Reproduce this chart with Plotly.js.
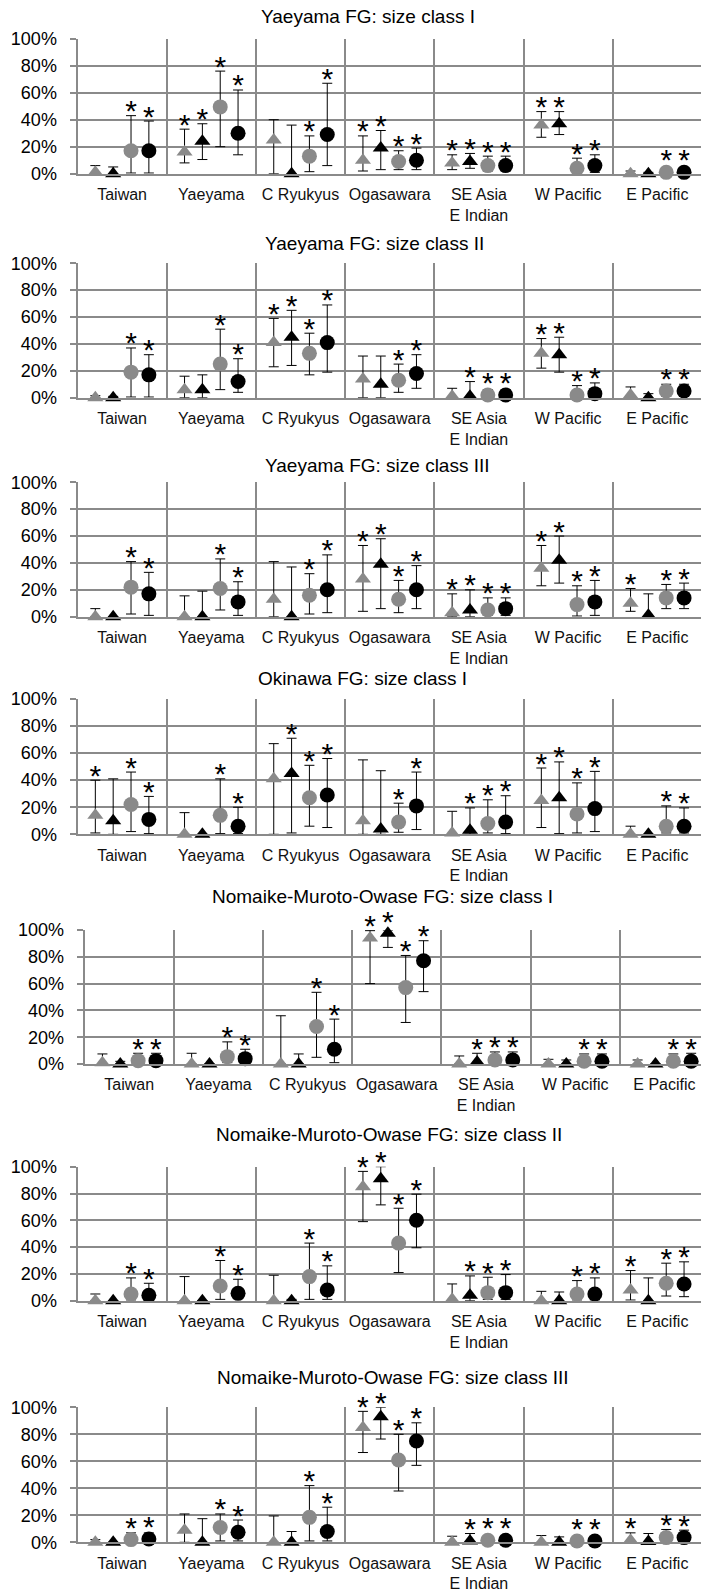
<!DOCTYPE html>
<html>
<head>
<meta charset="utf-8">
<script src="https://cdn.plot.ly/plotly-3.0.1.min.js"></script>
<style>
html,body{margin:0;padding:0;background:#fff;overflow:hidden;width:701px;height:1593px}
#chart{width:712px;height:1593px}
</style>
</head>
<body>
<div id="chart"></div>
<script>
// ---------------- DATA ----------------
const categories = ["Taiwan", "Yaeyama", "C Ryukyus", "Ogasawara", "SE Asia<br>E Indian", "W Pacific", "E Pacific"];
const seriesNames = ["gray triangle", "black triangle", "gray circle", "black circle"];
const panelTitles = [
  "Yaeyama FG: size class I",
  "Yaeyama FG: size class II",
  "Yaeyama FG: size class III",
  "Okinawa FG: size class I",
  "Nomaike-Muroto-Owase FG: size class I",
  "Nomaike-Muroto-Owase FG: size class II",
  "Nomaike-Muroto-Owase FG: size class III"
];
const yTickVals = [0, 20, 40, 60, 80, 100];
const yTickText = ["0%", "20%", "40%", "60%", "80%", "100%"];

// each panel: rows = [gray triangle, black triangle, gray circle, black circle], columns = categories
// Panel 1: Yaeyama FG size class I
const p1Val = [[1, 16, 25, 10, 8, 36, 0], [0, 24, 0, 19, 9, 37, 0], [17, 49.5, 13, 9, 6, 4, 1], [17, 30, 29, 10, 6, 6, 1]];
const p1Lo  = [[0, 8, 0, 2, 3, 27, 0], [0, 10.5, 0, 3, 4, 29, 0], [0.5, 20, 1.5, 3, 2, 1, 0], [0.5, 14, 6, 3, 2, 1, 0]];
const p1Hi  = [[6, 33, 40, 28, 14, 46, 2], [5, 37, 36, 32, 15, 46, 1], [43, 76, 28, 17, 13, 11.5, 3], [39, 62, 67, 19, 13, 14, 3]];
const p1Sig = [[0, 1, 0, 1, 1, 1, 0], [0, 1, 0, 1, 1, 1, 0], [1, 1, 1, 1, 1, 1, 1], [1, 1, 1, 1, 1, 1, 1]];

// Panel 2: Yaeyama FG size class II
const p2Val = [[0, 6, 41, 14, 1, 33, 2], [0, 6, 45, 10, 1, 32, 0], [19, 25, 33, 13, 2, 2, 5], [17, 12, 41, 18, 2, 3, 5]];
const p2Lo  = [[0, 0, 23, 0, 0, 22, 0], [0, 0, 24, 0, 0, 19, 0], [0.5, 6, 17, 4, 0.5, 0.5, 1], [0.5, 4, 19, 7, 0.5, 0.5, 1]];
const p2Hi  = [[1.5, 16, 59, 31, 7, 44, 8], [1, 17, 65, 31, 12, 45, 3], [37, 51, 48, 25, 6, 9, 10], [32, 29, 69, 32, 6, 11, 10]];
const p2Sig = [[0, 0, 1, 0, 0, 1, 0], [0, 0, 1, 0, 1, 1, 0], [1, 1, 1, 1, 1, 1, 1], [1, 1, 1, 1, 1, 1, 1]];

// Panel 3: Yaeyama FG size class III
const p3Val = [[0, 0, 13, 28, 3, 36, 10], [0, 0, 0, 39, 5, 42, 1], [22, 21, 16, 13, 5, 9, 14], [17, 11, 20, 20, 6, 11, 14]];
const p3Lo  = [[0, 0, 0, 4, 0, 23, 4], [0, 0, 0, 6, 0, 25, 0], [2, 5, 2, 3, 1, 0.5, 6], [1, 1, 3, 6, 1, 1, 6]];
const p3Hi  = [[6, 15.5, 41, 53, 17, 53, 21], [0, 19, 37, 58, 20, 60, 17], [41, 43, 32, 27, 14, 23, 24], [33, 26, 46, 38, 14, 27, 25]];
const p3Sig = [[0, 0, 0, 1, 1, 1, 1], [0, 0, 0, 1, 1, 1, 0], [1, 1, 1, 1, 1, 1, 1], [1, 1, 1, 1, 1, 1, 1]];

// Panel 4: Okinawa FG size class I
const p4Val = [[14, 0, 41, 10, 1, 25, 0], [10, 0, 45, 4, 3, 27, 0], [22, 14, 27, 9, 8, 15, 6], [11, 6, 29, 21, 9, 19, 6]];
const p4Lo  = [[1, 0, 0, 0, 0, 5, 0], [0, 0, 1, 0, 0, 0.5, 0], [2, 0.5, 6, 1.5, 1, 1, 1], [0.5, 0.5, 5, 3.5, 0.5, 2, 1]];
const p4Hi  = [[40, 16, 67, 55, 17, 49, 6], [41, 0, 71, 47, 19.5, 53.5, 0], [46, 41, 51, 23, 25.5, 38, 21], [28, 20, 56, 46, 28.5, 46.5, 19.5]];
const p4Sig = [[1, 0, 0, 0, 0, 1, 0], [0, 0, 1, 0, 1, 1, 0], [1, 1, 1, 1, 1, 1, 1], [1, 1, 1, 1, 1, 1, 1]];

// Panel 5: Nomaike-Muroto-Owase FG size class I
const p5Val = [[1, 0, 0, 94, 0, 0, 0], [0, 0, 0, 97.5, 1.5, 0, 0], [2.5, 5.5, 28, 57, 3, 2, 2], [2.5, 4, 11, 77, 3, 2, 2]];
const p5Lo  = [[0, 0, 0, 60, 0, 0, 0], [0, 0, 0, 87, 0, 0, 0], [0.5, 1, 5, 31, 0.5, 0.5, 0.5], [0.5, 0.5, 1, 54, 0.5, 0.5, 0.5]];
const p5Hi  = [[7.5, 8, 36, 99.5, 6, 3.5, 3], [2, 0, 7.5, 100, 8, 3, 0], [8, 16.5, 53.5, 81, 9, 7.5, 7.5], [8, 11, 33.5, 92, 9, 7.5, 8]];
const p5Sig = [[0, 0, 0, 1, 0, 0, 0], [0, 0, 0, 1, 1, 0, 0], [1, 1, 1, 1, 1, 1, 1], [1, 1, 1, 1, 1, 1, 1]];

// Panel 6: Nomaike-Muroto-Owase FG size class II
const p6Val = [[0, 0, 0, 85, 1, 0, 8], [0, 0, 0, 91, 4, 0, 0], [5, 11, 18, 43, 6, 5, 13], [4, 5.5, 8, 60, 6, 5, 12.5]];
const p6Lo  = [[0, 0, 0, 59, 0, 0, 0.5], [0, 0, 0, 71.5, 0, 0, 0], [0.5, 1, 1, 21, 1, 0.5, 3.5], [0.5, 1.5, 1, 39.5, 1, 0.5, 3]];
const p6Hi  = [[5, 18, 19, 96.5, 12.5, 7, 22.5], [0, 0, 1, 100, 18.5, 6.5, 17], [17, 30, 43, 69, 17.5, 15, 28], [13, 16, 26, 79.5, 19.5, 17, 29]];
const p6Sig = [[0, 0, 0, 1, 0, 0, 1], [0, 0, 0, 1, 1, 0, 0], [1, 1, 1, 1, 1, 1, 1], [1, 1, 1, 1, 1, 1, 1]];

// Panel 7: Nomaike-Muroto-Owase FG size class III
const p7Val = [[0, 9, 0, 85, 0, 0, 1.5], [0, 0, 0, 93, 1, 0, 0.5], [2, 11, 18.5, 61, 1.5, 1, 3.5], [2.5, 7.5, 8, 75, 1.5, 1, 3.5]];
const p7Lo  = [[0, 0, 0, 66.5, 0, 0, 0], [0, 0, 0, 76.5, 0, 0, 0], [0.5, 1, 1, 38, 0.5, 0.5, 0.5], [0.5, 1, 1, 57, 0.5, 0.5, 0.5]];
const p7Hi  = [[2, 21, 19.5, 97, 4.5, 5, 7], [0, 17.5, 8, 100, 6.5, 4, 6.5], [7, 21, 42, 80, 4, 3, 9.5], [7, 16.5, 26, 88.5, 4, 3, 9]];
const p7Sig = [[0, 0, 0, 1, 0, 0, 1], [0, 0, 0, 1, 1, 0, 0], [1, 1, 1, 1, 1, 1, 1], [1, 1, 1, 1, 1, 1, 1]];

// ---------------- LAYOUT / STYLE ----------------
const panels = [
  {val: p1Val, lo: p1Lo, hi: p1Hi, sig: p1Sig},
  {val: p2Val, lo: p2Lo, hi: p2Hi, sig: p2Sig},
  {val: p3Val, lo: p3Lo, hi: p3Hi, sig: p3Sig},
  {val: p4Val, lo: p4Lo, hi: p4Hi, sig: p4Sig},
  {val: p5Val, lo: p5Lo, hi: p5Hi, sig: p5Sig},
  {val: p6Val, lo: p6Lo, hi: p6Hi, sig: p6Sig},
  {val: p7Val, lo: p7Lo, hi: p7Hi, sig: p7Sig}
];

const W = 712, H = 1593;
const FONT = "Liberation Sans, Arial, Helvetica, sans-serif";
const GRID = "#8a8a8a";
const GRAY = "#8a8a8a";
const catW = 89.2;
const STAR = 30;
// pixel frame of each plot area: [left, top, bottom]
const frames = [
  [77.5, 38.7, 173.7],
  [77.5, 263.3, 397.7],
  [77.5, 482.3, 616.7],
  [77.5, 699.0, 834.3],
  [84.6, 930.0, 1064.0],
  [77.5, 1166.7, 1300.7],
  [77.5, 1407.3, 1542.3]
];
const titlePos = [[368, 16.7], [374.6, 243.3], [377.7, 465], [362, 678.3], [382, 896.5], [389, 1134], [392.6, 1377]];

const styles = [
  {symbol: "triangle-up", color: GRAY, size: 14, off: -0.3, half: 7},
  {symbol: "triangle-up", color: "#000", size: 14, off: -0.1, half: 7},
  {symbol: "circle", color: GRAY, size: 15, off: 0.1, half: 7.5},
  {symbol: "circle", color: "#000", size: 15, off: 0.3, half: 7.5}
];

const traces = [];
const textTraces = [];
const layout = {
  width: W, height: H,
  margin: {l: 0, r: 0, t: 0, b: 0},
  paper_bgcolor: "#fff", plot_bgcolor: "#fff",
  showlegend: false,
  font: {family: FONT, color: "#000"},
  annotations: []
};

const sepVals = categories.map((c, i) => i + 0.5);

panels.forEach((p, k) => {
  const n = k === 0 ? "" : String(k + 1);
  const fr = frames[k];
  const pxPerUnit = (fr[2] - fr[1]) / 100;
  layout["xaxis" + n] = {
    domain: [fr[0] / W, (fr[0] + catW * categories.length) / W],
    range: [-0.5, categories.length - 0.5],
    anchor: "y" + n,
    tickmode: "array",
    tickvals: categories.map((c, i) => i),
    ticktext: categories,
    ticks: "",
    showgrid: false,
    zeroline: false,
    showline: true, linecolor: GRID, linewidth: 2,
    tickfont: {size: 16, color: "#111", family: FONT},
    ticklabelstandoff: 5,
    minor: {tickmode: "array", tickvals: sepVals, showgrid: true, gridcolor: GRID, gridwidth: 2, ticks: ""},
    fixedrange: true
  };
  layout["yaxis" + n] = {
    domain: [(H - fr[2]) / H, (H - fr[1]) / H],
    range: [0, 100],
    anchor: "x" + n,
    tickmode: "array",
    tickvals: yTickVals,
    ticktext: yTickText,
    ticks: "outside", ticklen: 6, tickwidth: 2, tickcolor: GRID,
    showgrid: true, gridcolor: GRID, gridwidth: 2,
    zeroline: false,
    showline: true, linecolor: GRID, linewidth: 2,
    tickfont: {size: 18, color: "#000", family: FONT},
    ticklabelstandoff: 9,
    fixedrange: true
  };
  layout.annotations.push({
    text: panelTitles[k], xref: "paper", yref: "paper",
    x: titlePos[k][0] / W, y: (H - titlePos[k][1]) / H,
    xanchor: "center", yanchor: "middle", showarrow: false,
    font: {size: 19, color: "#000", family: FONT}
  });

  styles.forEach((st, s) => {
    const xs = categories.map((c, i) => i + st.off);
    const v = p.val[s];
    traces.push({
      type: "scatter", mode: "markers",
      name: seriesNames[s],
      x: xs, y: v,
      xaxis: "x" + n, yaxis: "y" + n,
      cliponaxis: false,
      marker: {symbol: st.symbol, color: st.color, size: st.size, line: {width: 0}},
      error_y: {
        type: "data", symmetric: false,
        array: v.map((val, i) => p.hi[s][i] - val),
        arrayminus: v.map((val, i) => val - p.lo[s][i]),
        color: "#000", thickness: 1, width: 5
      },
      hoverinfo: "skip"
    });
    // asterisks sit just above the upper error cap (or above the marker)
    const tx = [], ty = [], tp = [];
    p.sig[s].forEach((f, i) => {
      if (f) {
        tx.push(xs[i]);
        const top = Math.max(p.hi[s][i], v[i] + st.half / pxPerUnit);
        let yy = top + 2 / pxPerUnit;
        if (yy > 99) {
          // keep the anchor inside the axis range (points outside are hidden)
          ty.push(yy - 0.5 * STAR / pxPerUnit);
          tp.push("top center");
        } else {
          ty.push(yy);
          tp.push("middle center");
        }
      }
    });
    textTraces.push({
      type: "scatter", mode: "text",
      x: tx, y: ty, text: tx.map(() => "*"),
      textposition: tp,
      textfont: {size: STAR, color: "#000", family: FONT},
      xaxis: "x" + n, yaxis: "y" + n,
      cliponaxis: false, hoverinfo: "skip"
    });
  });
});

Plotly.newPlot("chart", traces.concat(textTraces), layout, {staticPlot: true, displayModeBar: false});
</script>
</body>
</html>
